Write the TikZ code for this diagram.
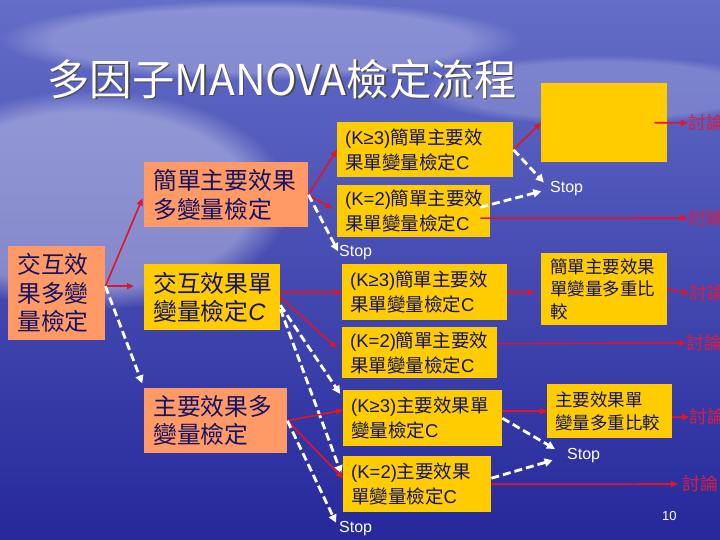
\documentclass[tikz,border=0pt]{standalone}
\usepackage{fontspec}
\setmainfont{Noto Sans CJK TC}
\newfontfamily\latfont{Liberation Sans}
\usetikzlibrary{arrows.meta,calc,fadings}
\definecolor{boxyellow}{RGB}{255,204,0}
\definecolor{boxsalmon}{RGB}{255,153,102}
\definecolor{boxtext}{RGB}{20,20,100}
\definecolor{arrowred}{RGB}{225,20,40}
\definecolor{discred}{RGB}{215,30,70}
\definecolor{bgtop}{RGB}{100,110,200}
\definecolor{bgmid}{RGB}{70,80,185}
\definecolor{bgbot}{RGB}{38,40,155}
\newcommand\bigcjk{\fontsize{23.8}{28.5}\selectfont}
\newcommand\midcjk{\fontsize{18.5}{25}\selectfont}
\newcommand\smallcjk{\fontsize{17.5}{22.5}\selectfont}
\newcommand\geqk{{\latfont(K≥3)}}
\newcommand\eqk{{\latfont(K=2)}}
\begin{document}
\begin{tikzpicture}[x=1pt,y=-1pt,
  cbox/.style={anchor=north west, inner ysep=0pt, align=left, text=boxtext},
  ybox/.style={cbox, fill=boxyellow},
  sbox/.style={cbox, fill=boxsalmon},
  stoplabel/.style={anchor=west, inner sep=0pt, text=white, font=\latfont\fontsize{16}{16}\selectfont},
  disclabel/.style={anchor=west, inner sep=0pt, text=discred, font=\fontsize{18}{18}\selectfont},
  haze/.style={white, path fading=circle with fuzzy edge 20 percent},
  go/.style={draw=arrowred, line width=1.6pt, -{Triangle[length=7pt,width=6pt]}},
  halt/.style={draw=white, line width=2.8pt, dash pattern=on 8pt off 4pt, -{Triangle[length=8pt,width=8pt]}}]
\useasboundingbox (0,0) rectangle (720,540);
\shade[top color=bgtop, middle color=bgmid, bottom color=bgbot] (0,0) rectangle (720,540);
\fill[haze, opacity=.35] (90,200) ellipse [x radius=200pt, y radius=110pt];
\fill[haze, opacity=.25] (260,40) ellipse [x radius=260pt, y radius=40pt];
\fill[haze, opacity=.2] (600,90) ellipse [x radius=180pt, y radius=35pt];

\node[anchor=west, inner sep=0pt, text=black!70, font=\fontsize{42.5}{42.5}\selectfont] at (48.5,80.5) {多因子MANOVA檢定流程};
\node[anchor=west, inner sep=0pt, text=white, font=\fontsize{42.5}{42.5}\selectfont] (title) at (47,79) {多因子MANOVA檢定流程};

\node[sbox, minimum height=94pt, inner xsep=9pt, text width=79pt, font=\bigcjk] (inter) at (8,246) {交互效\\果多變\\量檢定};
\node[sbox, minimum height=65pt, inner xsep=9pt, text width=146pt, font=\bigcjk] (simplemv) at (144,162) {簡單主要效果\\多變量檢定};
\node[ybox, minimum height=66pt, inner xsep=9pt, text width=118pt, font=\bigcjk] (interuv) at (144,264) {交互效果單\\變量檢定{\latfont\itshape C}};
\node[sbox, minimum height=65pt, inner xsep=9pt, text width=125pt, font=\bigcjk] (mainmv) at (144,388) {主要效果多\\變量檢定};

\node[ybox, minimum height=55pt, inner xsep=8pt, text width=160pt, font=\midcjk] (sktha) at (337,122) {\geqk 簡單主要效\\果單變量檢定{\latfont C}};
\node[ybox, minimum height=52pt, inner xsep=8pt, text width=137pt, font=\midcjk] (sktwa) at (337,185) {\eqk 簡單主要效\\果單變量檢定{\latfont C}};
\node[ybox, minimum height=56pt, inner xsep=8pt, text width=149pt, font=\midcjk] (skthb) at (342,264) {\geqk 簡單主要效\\果單變量檢定{\latfont C}};
\node[ybox, minimum height=51pt, inner xsep=8pt, text width=139pt, font=\midcjk] (sktwb) at (342,327) {\eqk 簡單主要效\\果單變量檢定{\latfont C}};
\node[ybox, minimum height=56pt, inner xsep=8pt, text width=143pt, font=\midcjk] (mkth) at (343,390) {\geqk 主要效果單\\變量檢定{\latfont C}};
\node[ybox, minimum height=56pt, inner xsep=8pt, text width=132pt, font=\midcjk] (mktw) at (343,456) {\eqk 主要效果\\單變量檢定{\latfont C}};

\node[ybox, minimum width=126pt, minimum height=79pt] (blank) at (541,83) {};
\node[ybox, minimum height=72pt, inner xsep=9pt, text width=108pt, font=\smallcjk] (smc) at (541,253) {簡單主要效果\\單變量多重比\\較};
\node[ybox, minimum height=54pt, inner xsep=8pt, text width=109pt, font=\smallcjk] (mmc) at (547,384) {主要效果單\\變量多重比較};

\node[stoplabel] (stopa) at (550,189) {Stop};
\node[stoplabel] (stopb) at (339,253) {Stop};
\node[stoplabel] (stopc) at (567,456) {Stop};
\node[stoplabel] (stopd) at (339,529) {Stop};

\node[disclabel] (disca) at (688,123) {討論};
\node[disclabel] (discb) at (688,218) {討論};
\node[disclabel] (discc) at (689,293) {討論};
\node[disclabel] (discd) at (686,343) {討論};
\node[disclabel] (disce) at (689,417) {討論};
\node[disclabel] (discf) at (682,484) {討論};

\node[anchor=west, inner sep=0pt, text=white, font=\latfont\fontsize{13}{13}\selectfont] (pagenum) at (662,516) {10};

\coordinate (interfan) at ([yshift=7pt]inter.east);
\draw[go, shorten >=4pt] (interfan) -- (simplemv.west);
\draw[go, shorten >=10pt] (interfan) -- (interfan -| interuv.west);
\draw[halt, shorten >=5pt] (interfan) -- (mainmv.north west);

\draw[go] (simplemv.east) -- (sktha.west);
\draw[go, shorten >=5pt] (simplemv.east) -- (sktwa.west);
\draw[halt, shorten >=2pt] (simplemv.east) -- (stopb.west);

\draw[go] (sktha.east) -- (blank.west);
\draw[halt, shorten >=9pt] (sktha.east) -- (stopa.west);
\draw[halt, shorten >=9pt] ([xshift=-10pt,yshift=4pt]sktwa.east) -- (stopa.west);
\draw[go] ([xshift=-10pt,yshift=-7pt]sktwa.east) -- (discb.west);
\draw[go] ([xshift=-13pt]blank.east) -- (disca.west);

\draw[go] (skthb.west -| interuv.east) -- (skthb.west);
\draw[go, shorten >=7pt] (interuv.east) -- (sktwb.west);
\draw[halt, shorten >=5pt] ([yshift=-8pt]interuv.east) -- ([yshift=-8pt]mkth.north west);
\draw[halt, shorten >=5pt] ([yshift=-12pt]interuv.east) -- ([yshift=6pt]mktw.west);

\draw[go] (mainmv.east) -- ([yshift=8pt]mkth.west);
\draw[go] (mainmv.east) -- ([yshift=6pt]mktw.west);
\draw[halt, shorten >=7pt] (mainmv.east) -- (stopd.west);

\draw[go, shorten >=6pt] (skthb.east) -- (skthb.east -| smc.west);
\draw[go] (smc.east) -- (discc.west);
\draw[go] ([yshift=9pt]sktwb.east) -- (discd.west);
\draw[go] ([yshift=7pt]mkth.east) -- (mmc.west);
\draw[halt, shorten >=14pt] (mkth.east) -- (stopc.west);
\draw[halt, shorten >=15pt] ([yshift=6pt]mktw.east) -- (stopc.west);
\draw[go, shorten >=4pt] (mktw.east) -- (discf.west);
\draw[go] ([yshift=-6pt]mmc.east) -- (disce.west);
\end{tikzpicture}
\end{document}
